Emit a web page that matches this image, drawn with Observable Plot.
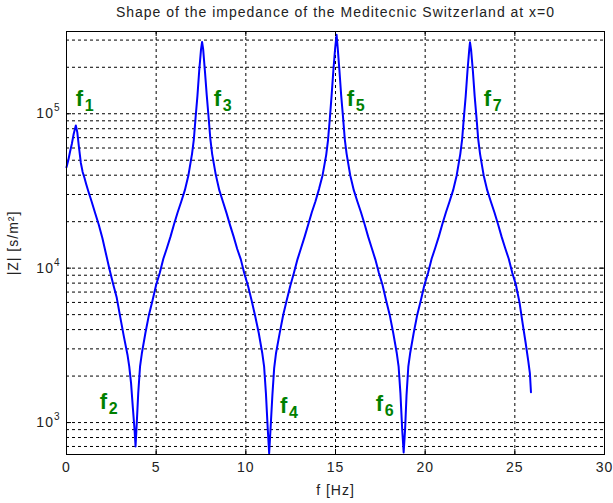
<!DOCTYPE html>
<html>
<head>
<meta charset="utf-8">
<script src="https://cdn.jsdelivr.net/npm/d3@7"></script>
<script src="https://cdn.jsdelivr.net/npm/@observablehq/plot@0.6"></script>
<style>
  html, body { margin: 0; padding: 0; background: #fff; }
  #chart svg text { letter-spacing: 1px; }
</style>
</head>
<body>
<div id="chart"></div>
<script>
// ---- data ----
const title = "Shape of the impedance of the Meditecnic Switzerland at x=0";
const xLabel = "f [Hz]";
const yLabel = "|Z| [s/m²]";

const freq = [
  0.00, 0.10, 0.20, 0.30, 0.40, 0.52, 0.60, 0.70, 0.80, 0.90, 1.00, 1.10, 1.20, 1.40, 1.60, 1.80, 2.00, 2.20, 2.40, 2.60, 2.80, 3.00, 3.20, 3.40, 3.50, 3.60, 3.70, 3.80, 3.85,
  3.90, 4.00, 4.10, 4.20, 4.40, 4.60, 4.80, 5.00, 5.20, 5.40, 5.60, 5.80, 6.00, 6.20, 6.40, 6.60, 6.80, 7.00, 7.10, 7.20, 7.30, 7.40, 7.50, 7.56,
  7.62, 7.72, 7.82, 7.92, 8.02, 8.12, 8.32, 8.52, 8.72, 8.92, 9.12, 9.32, 9.52, 9.72, 9.92, 10.12, 10.32, 10.52, 10.72, 10.92, 11.02, 11.12, 11.22, 11.30,
  11.38, 11.48, 11.58, 11.68, 11.88, 12.08, 12.28, 12.48, 12.68, 12.88, 13.08, 13.28, 13.48, 13.68, 13.88, 14.08, 14.28, 14.48, 14.58, 14.68, 14.78, 14.88, 14.98, 15.06,
  15.12, 15.22, 15.32, 15.42, 15.52, 15.62, 15.82, 16.02, 16.22, 16.42, 16.62, 16.82, 17.02, 17.22, 17.42, 17.62, 17.82, 18.02, 18.22, 18.42, 18.52, 18.62, 18.72, 18.80,
  18.88, 18.96, 19.06, 19.16, 19.36, 19.56, 19.76, 19.96, 20.16, 20.36, 20.56, 20.76, 20.96, 21.16, 21.36, 21.56, 21.76, 21.96, 22.06, 22.16, 22.26, 22.36, 22.46, 22.50,
  22.56, 22.66, 22.76, 22.86, 22.96, 23.06, 23.26, 23.46, 23.66, 23.86, 24.06, 24.26, 24.46, 24.66, 24.86, 25.06, 25.26, 25.46, 25.60, 25.75, 25.84, 25.90
];
const impedance = [
  45000, 50000, 57000, 64000, 74000, 84000, 76000, 60000, 48000, 42000, 38500, 35000, 32000, 27000, 22700, 19100, 15700, 12400, 9800, 7900, 6450, 4800, 3600, 2750, 2300, 1800, 1250, 880, 700,
  900, 1550, 2300, 2800, 3800, 5000, 6200, 7800, 9300, 11500, 13500, 16000, 19300, 23000, 27000, 32000, 40000, 55000, 68000, 95000, 130000, 190000, 260000, 292000,
  262000, 188000, 132000, 96000, 69000, 55000, 40500, 32000, 27000, 22800, 19000, 16000, 13300, 11400, 9200, 7700, 6200, 4900, 3800, 2800, 2300, 1550, 920, 630,
  920, 1500, 2250, 2800, 3750, 4950, 6200, 7700, 9300, 11400, 13500, 16000, 19200, 23000, 27000, 32500, 40000, 54000, 67000, 92000, 130000, 190000, 265000, 325000,
  270000, 190000, 130000, 95000, 68000, 55000, 40000, 32000, 27000, 23000, 19300, 16000, 13500, 11400, 9300, 7800, 6200, 5000, 3800, 2800, 2300, 1550, 900, 640,
  900, 1500, 2300, 2800, 3800, 5000, 6200, 7800, 9300, 11500, 13500, 16000, 19300, 23000, 27000, 32000, 40000, 55000, 68000, 95000, 130000, 190000, 262000, 290000,
  260000, 190000, 130000, 95000, 68000, 55000, 40000, 32000, 27000, 23000, 19300, 16000, 13500, 11500, 9300, 7800, 6000, 4200, 3300, 2500, 2080, 1570
];

const xTicks = [0, 5, 10, 15, 20, 25, 30];
const xGrid = [5, 10, 15, 20, 25];
const yTicks = [1000, 10000, 100000];
const yTickExponents = ["3", "4", "5"];
const yGrid = [700, 800, 900, 1000, 2000, 3000, 4000, 5000, 6000, 7000, 8000, 9000,
               10000, 20000, 30000, 40000, 50000, 60000, 70000, 80000, 90000,
               100000, 200000, 300000];

const annSub = ["1", "2", "3", "4", "5", "6", "7"];
const annX = [0.52, 1.86, 8.21, 11.9, 15.63, 17.25, 23.27];
const annY = [113000, 1233, 113000, 1161, 113000, 1196, 113000];

// ---- build tables ----
const rows = freq.map((f, i) => ({f, z: impedance[i]}));
const ann = annSub.map((s, i) => ({s, x: annX[i], y: annY[i]}));

const W = 613, H = 503;
const mL = 66, mR = 9, mT = 31, mB = 49;
const innerW = W - mL - mR, innerH = H - mT - mB;
const dash = "3,3";

const chart = Plot.plot({
  width: W, height: H,
  marginLeft: mL, marginRight: mR, marginTop: mT, marginBottom: mB,
  style: {fontFamily: "'Liberation Sans', Arial, sans-serif", fontSize: "14px", color: "#222", background: "#fff"},
  x: {type: "linear", domain: [0, 30]},
  y: {type: "log", domain: [621, 341000]},
  marks: [
    Plot.ruleX(xGrid, {x: d => d, stroke: "#000", strokeDasharray: dash, strokeWidth: 1}),
    Plot.ruleY(yGrid, {y: d => d, stroke: "#000", strokeDasharray: dash, strokeWidth: 1}),
    Plot.line(rows, {x: "f", y: "z", stroke: "#0000ff", strokeWidth: 2}),
    Plot.frame({stroke: "#000", strokeWidth: 1}),
    Plot.ruleX(xTicks, {x: d => d, insetTop: innerH - 5, stroke: "#000"}),
    Plot.ruleX(xTicks, {x: d => d, insetBottom: innerH - 5, stroke: "#000"}),
    Plot.ruleY(yTicks, {y: d => d, insetRight: innerW - 5, stroke: "#000"}),
    Plot.ruleY(yTicks, {y: d => d, insetLeft: innerW - 5, stroke: "#000"}),
    Plot.axisX(xTicks, {tickSize: 0, tickPadding: 8, fontSize: 14,
      label: xLabel, labelArrow: false, labelAnchor: "center", labelOffset: 40}),
    Plot.axisY(yTicks, {tickSize: 0, tickPadding: 6, fontSize: 14,
      tickFormat: d => "10^" + yTickExponents[yTicks.indexOf(d)],
      label: yLabel, labelArrow: false, labelAnchor: "center", labelOffset: 58}),
    Plot.text([title], {text: d => d, frameAnchor: "top", dy: -19, fontSize: 14, lineAnchor: "middle", fill: "#222"}),
    Plot.text(ann, {x: "x", y: "y", text: () => "f", textAnchor: "start", lineAnchor: "bottom",
      fill: "#008000", fontWeight: "bold", fontSize: 22}),
    Plot.text(ann, {x: "x", y: "y", text: "s", textAnchor: "start", lineAnchor: "bottom",
      dx: 9, dy: 5, fill: "#008000", fontWeight: "bold", fontSize: 16})
  ]
});

// render exponents of the y tick labels as raised superscripts
chart.querySelectorAll("text").forEach(t => {
  const s = t.textContent;
  const m = /^10\^(\d+)$/.exec(s);
  if (!m) return;
  while (t.firstChild) t.removeChild(t.firstChild);
  t.appendChild(document.createTextNode("10"));
  const sup = document.createElementNS("http://www.w3.org/2000/svg", "tspan");
  sup.setAttribute("dy", "-7");
  sup.setAttribute("font-size", "10");
  sup.textContent = m[1];
  t.appendChild(sup);
});

document.getElementById("chart").appendChild(chart);
</script>
</body>
</html>
